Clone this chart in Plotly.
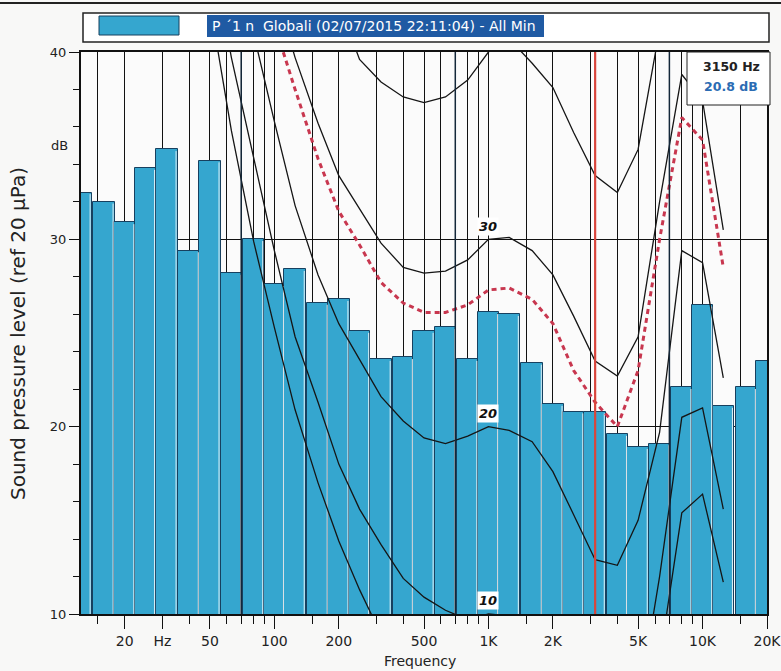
import numpy as np
import plotly.graph_objects as go

# ---------------- data ----------------
band_hz = [12.5, 16, 20, 25, 31.5, 40, 50, 63, 80, 100, 125, 160, 200, 250, 315, 400, 500,
           630, 800, 1000, 1250, 1600, 2000, 2500, 3150, 4000, 5000, 6300, 8000, 10000,
           12500, 16000, 20000]
band_db = [32.5, 32.0, 30.9, 33.8, 34.8, 29.4, 34.2, 28.2, 30.0, 27.6, 28.4, 26.6, 26.8, 25.1,
           23.6, 23.7, 25.1, 25.3, 23.6, 26.1, 26.0, 23.4, 21.2, 20.8, 20.8, 19.6, 18.9, 19.1,
           22.1, 26.5, 21.1, 22.1, 23.5]

contour_hz = [20, 25, 31.5, 40, 50, 63, 80, 100, 125, 160, 200, 250, 315, 400, 500, 630, 800,
              1000, 1250, 1600, 2000, 2500, 3150, 4000, 5000, 6300, 8000, 10000, 12500]
threshold_db = [72, 65, 58, 51, 42.6, 35.8, 29.9, 25.3, 20.9, 17.0, 13.9, 11.3, 8.9, 7.2, 6.0,
                5.2, 4.6, 4.5, 4.5, 3.5, 1.5, -1.0, -3.0, -3.5, -1.5, 7.5, 15.4, 16.4, 11.7]
phon10_db = [74, 67, 60, 53, 46, 39.7, 34.3, 29.4, 24.8, 21.3, 18.0, 15.6, 13.7, 11.9, 10.9,
             10.2, 9.7, 10.0, 9.9, 9.2, 7.5, 5.0, 3.0, 2.6, 5.0, 12.0, 20.5, 21.0, 15.6]
phon20_db = [76, 70, 64, 58, 52, 46, 40.9, 36.3, 31.8, 28.1, 25.5, 23.6, 21.6, 20.3, 19.4, 19.1,
             19.5, 20.0, 19.8, 19.2, 17.6, 15.3, 12.9, 12.6, 15.0, 19.7, 29.4, 28.75, 22.6]
phon30_db = [79, 74, 69, 64, 59, 54, 49.5, 43.5, 39.7, 36.2, 33.4, 31.6, 29.8, 28.5, 28.2, 28.3,
             28.9, 30.0, 30.1, 29.4, 28.1, 25.9, 23.5, 22.7, 24.8, 32.0, 38.8, 37.4, 30.5]
phon40_db = [90, 84, 78, 72, 66, 61, 56, 52, 48.5, 45.5, 42.6, 39.6, 38.4, 37.6, 37.3, 37.6,
             38.5, 40.0, 40.7, 39.4, 38.1, 35.7, 33.4, 32.5, 34.8, 41.2, 49, 50, 45]
loudness_db = [75, 70, 65, 60, 55, 50, 46, 41.5, 38.0, 34.3, 31.5, 29.7, 27.7, 26.6, 26.1, 26.1,
               26.5, 27.3, 27.4, 26.8, 25.5, 23.0, 21.3, 20.0, 23.0, 30.0, 36.5, 35.3, 28.5]

contour_labels = ["10", "20", "30"]
cursor_hz = 3150

x_major_hz = [20, 30, 50, 100, 200, 500, 1000, 2000, 5000, 10000, 20000]
x_major_text = ["20", "Hz", "50", "100", "200", "500", "1K", "2K", "5K", "10K", "20K"]
x_minor_hz = [15, 40, 60, 70, 80, 90, 150, 300, 400, 600, 700, 800, 900, 1500, 3000, 4000,
              6000, 7000, 8000, 9000, 15000]
edge_lines_hz = [70, 700, 7000]
y_major = [10, 20, 30, 40]

legend_text = "P \u00b41 n  Globali (02/07/2015 22:11:04) - All Min"

# ---------------- styling ----------------
BAR = "#35a6cf"
BAR_EDGE = "#17405f"
GRID = "#111111"
FONT = "DejaVu Sans, Verdana, sans-serif"

lx = lambda v: np.log10(np.asarray(v, dtype=float))

# pixel -> paper helpers for decorations (plot area: x 81..767, y 52..614)
L, R, T, B = 81, 767, 52, 614
px = lambda p: (p - L) / (R - L)
py = lambda p: (B - p) / (B - T)
band_w = np.log10(2) / 3
px_in_log = (np.log10(20000) - np.log10(12.5)) / (R - L)

fig = go.Figure()

fig.add_trace(go.Bar(
    x=lx(band_hz), y=band_db, width=band_w,
    marker=dict(color=BAR, line=dict(color=BAR_EDGE, width=1)),
    hoverinfo="skip"))

# light highlight just inside the right edge of each bar
hx, hy = [], []
for f, v in zip(band_hz, band_db):
    xe = float(lx(f) + band_w / 2 - 1.6 * px_in_log)
    hx += [xe, xe, None]
    hy += [0, v - 0.09, None]
fig.add_trace(go.Scatter(x=hx, y=hy, mode="lines",
                         line=dict(color="rgba(255,255,255,0.85)", width=1),
                         hoverinfo="skip"))

for curve in [threshold_db, phon10_db, phon20_db, phon30_db, phon40_db]:
    fig.add_trace(go.Scatter(x=lx(contour_hz), y=curve, mode="lines",
                             line=dict(color="#151515", width=1.3), hoverinfo="skip"))

fig.add_trace(go.Scatter(x=lx(contour_hz), y=loudness_db, mode="lines",
                         line=dict(color="#c8374f", width=3, dash="5px,4px"),
                         hoverinfo="skip"))

shapes = []
for f in edge_lines_hz:
    shapes.append(dict(type="line", xref="x", yref="paper", x0=float(lx(f)), x1=float(lx(f)),
                       y0=0, y1=1, line=dict(color="#14283a", width=1.5), layer="above"))
# cursor
shapes.append(dict(type="line", xref="x", yref="paper", x0=float(lx(cursor_hz)),
                   x1=float(lx(cursor_hz)), y0=0, y1=1,
                   line=dict(color="#d8453c", width=2.2), layer="above"))
# readout box
shapes.append(dict(type="rect", xref="paper", yref="paper", x0=px(687), x1=px(770),
                   y0=py(105), y1=py(52), fillcolor="white",
                   line=dict(color="#222", width=1), layer="above"))
# legend box
shapes.append(dict(type="rect", xref="paper", yref="paper", x0=px(83), x1=px(769),
                   y0=py(42), y1=py(13), fillcolor="white",
                   line=dict(color="#222", width=1.5), layer="above"))
shapes.append(dict(type="rect", xref="paper", yref="paper", x0=px(99), x1=px(179),
                   y0=py(35), y1=py(16), fillcolor=BAR,
                   line=dict(color=BAR_EDGE, width=1), layer="above"))
shapes.append(dict(type="rect", xref="paper", yref="paper", x0=px(207), x1=px(544),
                   y0=py(37), y1=py(15), fillcolor="#1f5aa3",
                   line=dict(width=0), layer="above"))
# outer top frame line
shapes.append(dict(type="line", xref="paper", yref="paper", x0=px(0), x1=px(781),
                   y0=py(3), y1=py(3), line=dict(color="#222", width=2), layer="above"))

def ann(x, y, text, size, color="#222", xref="paper", yref="paper", **kw):
    d = dict(x=x, y=y, xref=xref, yref=yref, text=text, showarrow=False,
             xanchor=kw.pop("xanchor", "center"), yanchor=kw.pop("yanchor", "middle"),
             font=dict(family=FONT, size=size, color=color))
    d.update(kw)
    return d

annotations = []
for lab, curve in zip(contour_labels, [phon10_db, phon20_db, phon30_db]):
    y1k = curve[contour_hz.index(1000)]
    annotations.append(ann(float(lx(1000)), y1k + 0.7, "<b><i>%s</i></b>" % lab, 13,
                           color="#111", xref="x", yref="y", bgcolor="white", borderpad=1))
annotations.append(ann(px(70), 35, "dB", 13, yref="y", xanchor="right"))
sel = band_db[band_hz.index(cursor_hz)]
annotations.append(ann(px(731), py(66), "<b>%d Hz</b>" % cursor_hz, 12.5))
annotations.append(ann(px(731), py(87), "<b>%.1f dB</b>" % sel, 12.5, color="#2b6cb3"))
annotations.append(ann(px(210), py(26), legend_text, 14, color="white", xanchor="left"))
annotations.append(ann(px(420), py(661), "Frequency", 14))
annotations.append(ann(px(18), py(334), "Sound pressure level (ref 20 \u00b5Pa)", 20,
                       textangle=-90))

fig.update_layout(
    width=781, height=671,
    margin=dict(l=L, r=781 - R, t=T, b=671 - B, autoexpand=False),
    paper_bgcolor="#f8f8f7", plot_bgcolor="#fbfbfb",
    showlegend=False, bargap=0,
    shapes=shapes, annotations=annotations,
    xaxis=dict(range=[float(lx(12.5)), float(lx(20000))], tickmode="array",
               tickvals=list(lx(x_major_hz)), ticktext=x_major_text,
               ticks="outside", ticklen=13, tickcolor="#111", tickwidth=1.3,
               ticklabeloverflow="allow", automargin=False,
               showgrid=True, gridcolor=GRID, gridwidth=1.4,
               showline=True, linecolor="#111", linewidth=2, mirror=True,
               zeroline=False, tickfont=dict(family=FONT, size=14, color="#222"),
               minor=dict(tickmode="array", tickvals=list(lx(x_minor_hz)), ticks="outside",
                          ticklen=8, tickcolor="#111", tickwidth=1.3, showgrid=True,
                          gridcolor=GRID, gridwidth=1.4)),
    yaxis=dict(range=[10, 40], tickmode="array", tickvals=y_major,
               ticks="outside", ticklen=10, tickcolor="#111", tickwidth=1.3,
               automargin=False,
               showgrid=True, gridcolor=GRID, gridwidth=1.4,
               showline=True, linecolor="#111", linewidth=2, mirror=True,
               zeroline=False, tickfont=dict(family=FONT, size=13, color="#222"),
               minor=dict(tick0=10, dtick=2, ticks="outside", ticklen=6, tickcolor="#111",
                          tickwidth=1.3, showgrid=False)),
)

fig.write_html("out.html")
